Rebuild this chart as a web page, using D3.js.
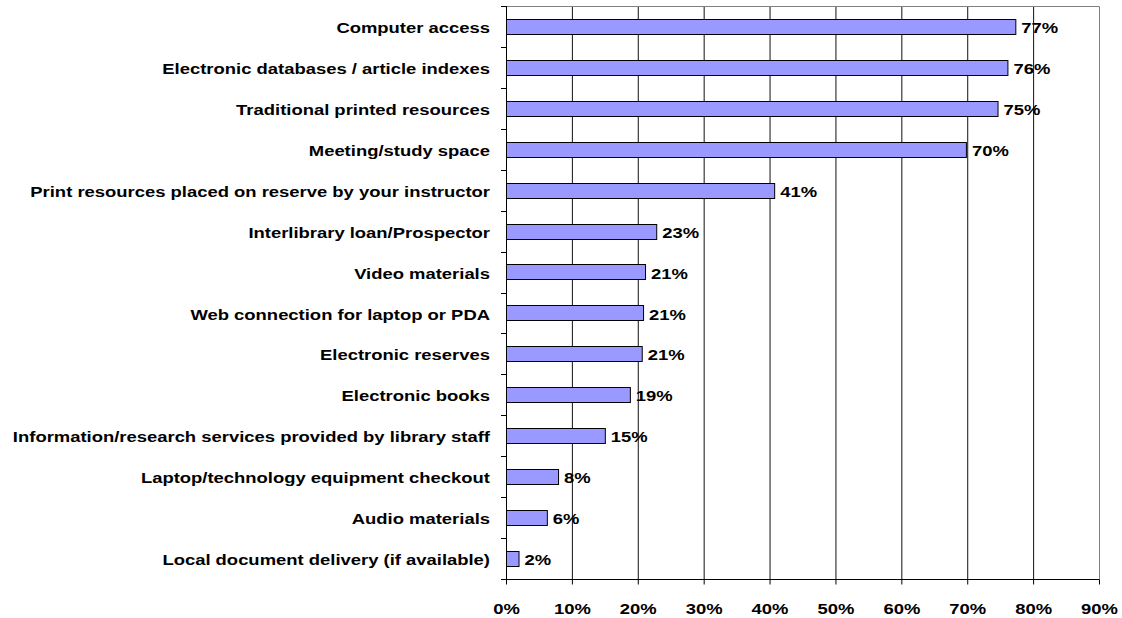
<!DOCTYPE html>
<html><head><meta charset="utf-8">
<script src="https://cdn.jsdelivr.net/npm/d3@7"></script>
<style>body{margin:0;background:#fff}svg{display:block}text{font-family:"Liberation Sans",Arial,sans-serif;font-weight:bold;fill:#000}</style>
</head><body><svg id="c" width="1122" height="618"></svg>
<script>
const categories = [
  "Computer access",
  "Electronic databases / article indexes",
  "Traditional printed resources",
  "Meeting/study space",
  "Print resources placed on reserve by your instructor",
  "Interlibrary loan/Prospector",
  "Video materials",
  "Web connection for laptop or PDA",
  "Electronic reserves",
  "Electronic books",
  "Information/research services provided by library staff",
  "Laptop/technology equipment checkout",
  "Audio materials",
  "Local document delivery (if available)"
];
const values = [77.3, 76.1, 74.6, 69.8, 40.7, 22.8, 21.1, 20.8, 20.6, 18.8, 15.0, 7.9, 6.2, 1.9];
const valueLabels = ["77%","76%","75%","70%","41%","23%","21%","21%","21%","19%","15%","8%","6%","2%"];
const xTicks = [0,10,20,30,40,50,60,70,80,90];

const FS = "15.5px", SX = 1.19;
const svg = d3.select("#c");
const L = 506, R = 1099, T = 6, B = 579;
const x = d3.scaleLinear().domain([0,90]).range([L,R]);
const y = d3.scaleBand().domain(categories).range([T,B]).paddingInner(0.63).paddingOuter(0.315);
const yb = d3.scaleBand().domain(categories).range([T,B]);

// gridlines
svg.append("g").selectAll("line").data(xTicks.slice(1,-1)).join("line")
  .attr("x1", d=>x(d)+0.5).attr("x2", d=>x(d)+0.5).attr("y1", T).attr("y2", B)
  .attr("stroke", "#111").attr("stroke-width", 1);
// border top/right
svg.append("path").attr("d", `M${L},${T+0.5}H${R+0.5}V${B}`).attr("fill","none").attr("stroke","#808080");

// bars
svg.append("g").selectAll("rect").data(categories).join("rect")
  .attr("x", L+0.5).attr("y", d=>Math.round(y(d))+0.5)
  .attr("width", (d,i)=>x(values[i])-L).attr("height", Math.round(y.bandwidth()))
  .attr("fill", "#9999FF").attr("stroke", "#000").attr("stroke-width", 1);

// value labels
svg.append("g").selectAll("text").data(categories).join("text")
  .attr("transform", (d,i)=>`translate(${x(values[i])+6},${y(d)+y.bandwidth()/2+1}) scale(${SX},1)`)
  .attr("dy","0.36em").attr("font-size",FS).text((d,i)=>valueLabels[i]);

// x axis
const xa = svg.append("g").attr("transform", `translate(0,${B+0.5})`)
  .call(d3.axisBottom(x).tickValues(xTicks).tickFormat(d=>d+"%").tickSize(5).tickPadding(18));
xa.select(".domain").attr("stroke","#000").attr("d", `M${L},0H${R+0.5}`);
xa.selectAll(".tick line").attr("stroke","#000");
xa.selectAll(".tick text").each(function(){
  const t = d3.select(this);
  t.attr("transform", `translate(0,${t.attr("y")}) scale(${SX},1)`).attr("y", 0);
}).attr("font-size",FS).attr("font-family",null).attr("font-weight",null);

// y axis line and ticks
svg.append("line").attr("x1",L+0.5).attr("x2",L+0.5).attr("y1",T).attr("y2",B).attr("stroke","#000");
const bounds = categories.map(c=>yb(c)).concat([B]);
svg.append("g").selectAll("line").data(bounds).join("line")
  .attr("x1",L-5).attr("x2",L).attr("y1",d=>Math.round(d)+0.5).attr("y2",d=>Math.round(d)+0.5).attr("stroke","#000");

// category labels
svg.append("g").selectAll("text").data(categories).join("text")
  .attr("transform", d=>`translate(490,${y(d)+y.bandwidth()/2+1}) scale(${SX},1)`)
  .attr("dy","0.36em").attr("text-anchor","end").attr("font-size",FS).text(d=>d);
</script></body></html>
